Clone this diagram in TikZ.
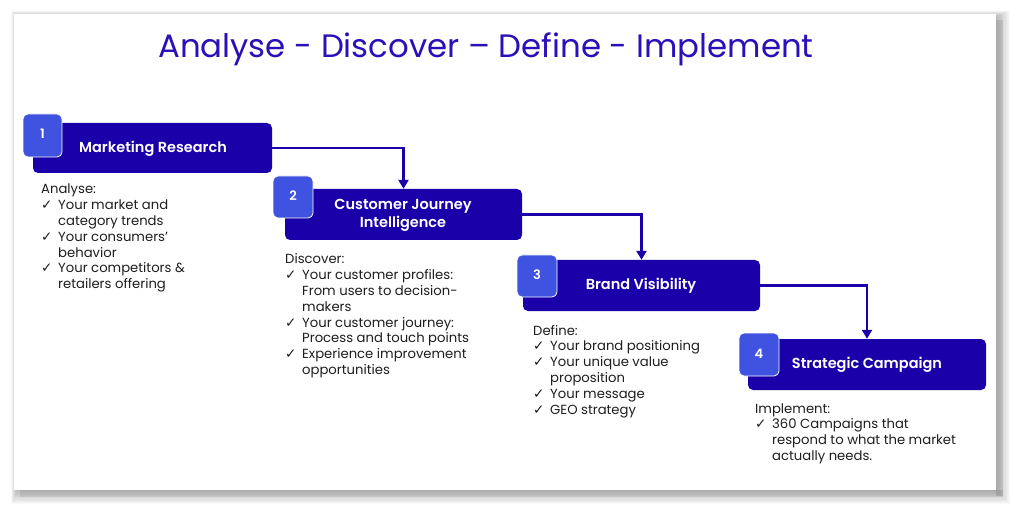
\documentclass[tikz,border=0pt]{standalone}
\usepackage{fontspec}
\setmainfont{Poppins}
\newfontfamily\semib{Poppins SemiBold}
\newfontfamily\ckfont{DejaVu Sans}
\usetikzlibrary{arrows.meta}
\definecolor{titleblue}{HTML}{2A10B8}
\definecolor{boxblue}{HTML}{1A00A8}
\definecolor{sqblue}{HTML}{3F52E0}
\definecolor{txt}{HTML}{1E1E1E}
\newcommand{\ck}{\makebox[17pt][l]{\ckfont\fontsize{13.5}{13.5}\selectfont ✓}}
\newcommand{\ind}{\hspace*{17pt}}
\tikzset{
  stepbox/.style={fill=boxblue, rounded corners=5pt},
  numsq/.style={fill=sqblue, draw=white, line width=0.8pt, rounded corners=5pt},
  numtxt/.style={text=white, font=\fontsize{13}{13}\selectfont\semib},
  boxtitle/.style={text=white, align=center, font=\fontsize{14.5}{18}\selectfont\semib},
  body/.style={text=txt, anchor=base west, inner sep=0pt, font=\fontsize{13.2}{15.8}\selectfont},
  conn/.style={draw=boxblue, line width=2.4pt, -{Triangle[length=9pt,width=10pt]}}
}
\begin{document}
\begin{tikzpicture}[x=1pt,y=-1pt]
\useasboundingbox (0,0) rectangle (1024,518);
\fill[white] (0,0) rectangle (1024,518);
% card shadow
\foreach \i in {1,...,12}{
  \fill[black, opacity=0.025] (14-0.5*\i+3, 14-0.5*\i+3) rectangle (996+1.2*\i, 490+1.2*\i);
}
\fill[black, opacity=0.10] (996,20) rectangle (1003,496);
\fill[black, opacity=0.08] (20,490) rectangle (1003,497);
\fill[white] (14,14) rectangle (996,490);

% title
\node[text=titleblue, font=\fontsize{32.4}{32.4}\selectfont] (title) at (486,49) {Analyse - Discover – Define - Implement};

% boxes
\fill[stepbox] (33,123) rectangle (272,173);
\node (b1) at (152.5,148) [minimum width=239pt, minimum height=50pt, inner sep=0pt] {};
\fill[stepbox] (285,189) rectangle (522,240);
\node (b2) at (403.5,214.5) [minimum width=237pt, minimum height=51pt, inner sep=0pt] {};
\fill[stepbox] (523,260) rectangle (760,311);
\node (b3) at (641.5,285.5) [minimum width=237pt, minimum height=51pt, inner sep=0pt] {};
\fill[stepbox] (748,339) rectangle (986,390);
\node (b4) at (867,364.5) [minimum width=238pt, minimum height=51pt, inner sep=0pt] {};

\node[boxtitle] (t1) at (153,149) {Marketing Research};
\node[boxtitle] (t2) at (403,215) {Customer Journey\\Intelligence};
\node[boxtitle] (t3) at (641,286) {Brand Visibility};
\node[boxtitle] (t4) at (867,365) {Strategic Campaign};

% number squares
\draw[numsq] (23,114) rectangle (62,157);
\node[numtxt] (n1) at (42.5,134) {1};
\draw[numsq] (273,176) rectangle (313,218);
\node[numtxt] (n2) at (293,196) {2};
\draw[numsq] (517,255) rectangle (557,297);
\node[numtxt] (n3) at (537,275) {3};
\draw[numsq] (739,333) rectangle (779,376);
\node[numtxt] (n4) at (759,354) {4};

% connectors
\draw[conn] (b1.east) -| (b2.north);
\draw[conn] (b2.east) -| (b3.north);
\draw[conn] (b3.east) -| (b4.north);

% body texts
\node[body] (d1) at (41,194) {\begin{tabular}[t]{@{}l@{}}Analyse:\\
\ck Your market and\\
\ind category trends\\
\ck Your consumers’\\
\ind behavior\\
\ck Your competitors \&\\
\ind retailers offering\end{tabular}};

\node[body] (d2) at (285,264) {\begin{tabular}[t]{@{}l@{}}Discover:\\
\ck Your customer profiles:\\
\ind From users to decision-\\
\ind makers\\
\ck Your customer journey:\\
\ind Process and touch points\\
\ck Experience improvement\\
\ind opportunities\end{tabular}};

\node[body] (d3) at (533,335) {\begin{tabular}[t]{@{}l@{}}Define:\\
\ck Your brand positioning\\
\ck Your unique value\\
\ind proposition\\
\ck Your message\\
\ck GEO strategy\end{tabular}};

\node[body] (d4) at (755,413) {\begin{tabular}[t]{@{}l@{}}Implement:\\
\ck 360 Campaigns that\\
\ind respond to what the market\\
\ind actually needs.\end{tabular}};
\end{tikzpicture}
\end{document}
